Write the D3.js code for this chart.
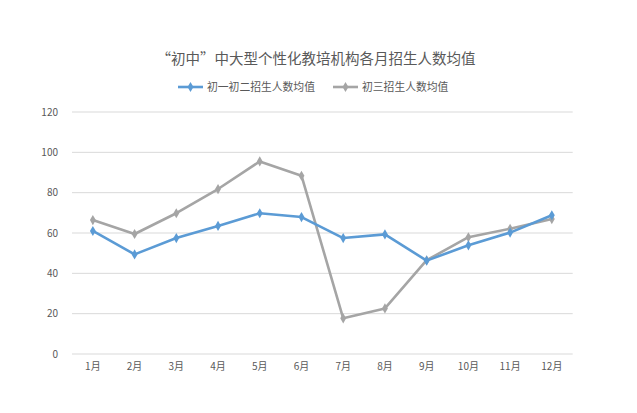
<!DOCTYPE html>
<html><head><meta charset="utf-8">
<script src="https://cdn.jsdelivr.net/npm/d3@7"></script>
<style>body{margin:0;background:#fff}svg{display:block}text{font-family:"Noto Sans CJK SC","Microsoft YaHei",sans-serif}</style>
</head><body><svg id="c" width="637" height="413"></svg>
<script>
const months = ["1月","2月","3月","4月","5月","6月","7月","8月","9月","10月","11月","12月"];
const seriesNames = ["初一初二招生人数均值","初三招生人数均值"];
const grade12 = [61.0,49.4,57.5,63.5,69.8,67.9,57.5,59.3,46.3,53.9,60.2,68.8];
const grade3 = [66.4,59.5,69.8,81.8,95.5,88.4,17.7,22.6,46.5,57.9,62.1,66.9];
const yTicks = [0,20,40,60,80,100,120];
const colors = ["#5B9BD5","#A5A5A5"];
const title = "“初中”中大型个性化教培机构各月招生人数均值";

const svg = d3.select("#c");
const x = d3.scaleBand().domain(months).range([72,572.7]);
const y = d3.scaleLinear().domain([0,120]).range([354,112]);

svg.append("g").selectAll("line").data(yTicks).join("line")
  .attr("x1",72).attr("x2",572.7).attr("y1",d=>y(d)).attr("y2",d=>y(d))
  .attr("stroke","#D9D9D9").attr("stroke-width",1);

const yAxis = svg.append("g").attr("transform","translate(72,0)")
  .call(d3.axisLeft(y).tickValues(yTicks).tickSize(0).tickPadding(14));
yAxis.select(".domain").remove();
yAxis.selectAll("text").attr("fill","#595959").attr("font-size",10).style("font-family","'Noto Sans CJK SC',sans-serif");

const xAxis = svg.append("g").attr("transform","translate(0,354)")
  .call(d3.axisBottom(x).tickSize(0).tickPadding(9));
xAxis.select(".domain").remove();
xAxis.selectAll("text").attr("fill","#595959").attr("font-size",10).style("font-family","'Noto Sans CJK SC',sans-serif");

const cx = d=>x(d)+x.bandwidth()/2;
const line = d3.line().x((d,i)=>cx(months[i])).y(d=>y(d));
const diamond = d3.symbol().type(d3.symbolDiamond).size(30);

[grade3, grade12].forEach((data,k)=>{
  const ci = k===0?1:0;
  svg.append("path").datum(data).attr("d",line).attr("fill","none")
    .attr("stroke",colors[ci]).attr("stroke-width",2.6).attr("stroke-linejoin","round");
  svg.append("g").selectAll("path").data(data).join("path")
    .attr("d",diamond).attr("transform",(d,i)=>`translate(${cx(months[i])},${y(d)})`)
    .attr("fill",colors[ci]);
});

svg.append("text").attr("x",316).attr("y",64).attr("text-anchor","middle")
  .attr("font-size",14.5).attr("fill","#595959").text(title);

const legX = [178,333];
seriesNames.forEach((n,i)=>{
  const g = svg.append("g");
  g.append("line").attr("x1",legX[i]).attr("x2",legX[i]+25).attr("y1",87).attr("y2",87)
    .attr("stroke",colors[i]).attr("stroke-width",2.6);
  g.append("path").attr("d",diamond).attr("transform",`translate(${legX[i]+12.5},87)`).attr("fill",colors[i]);
  g.append("text").attr("x",legX[i]+29).attr("y",91).attr("font-size",10.8).attr("fill","#595959").text(n);
});
</script></body></html>
